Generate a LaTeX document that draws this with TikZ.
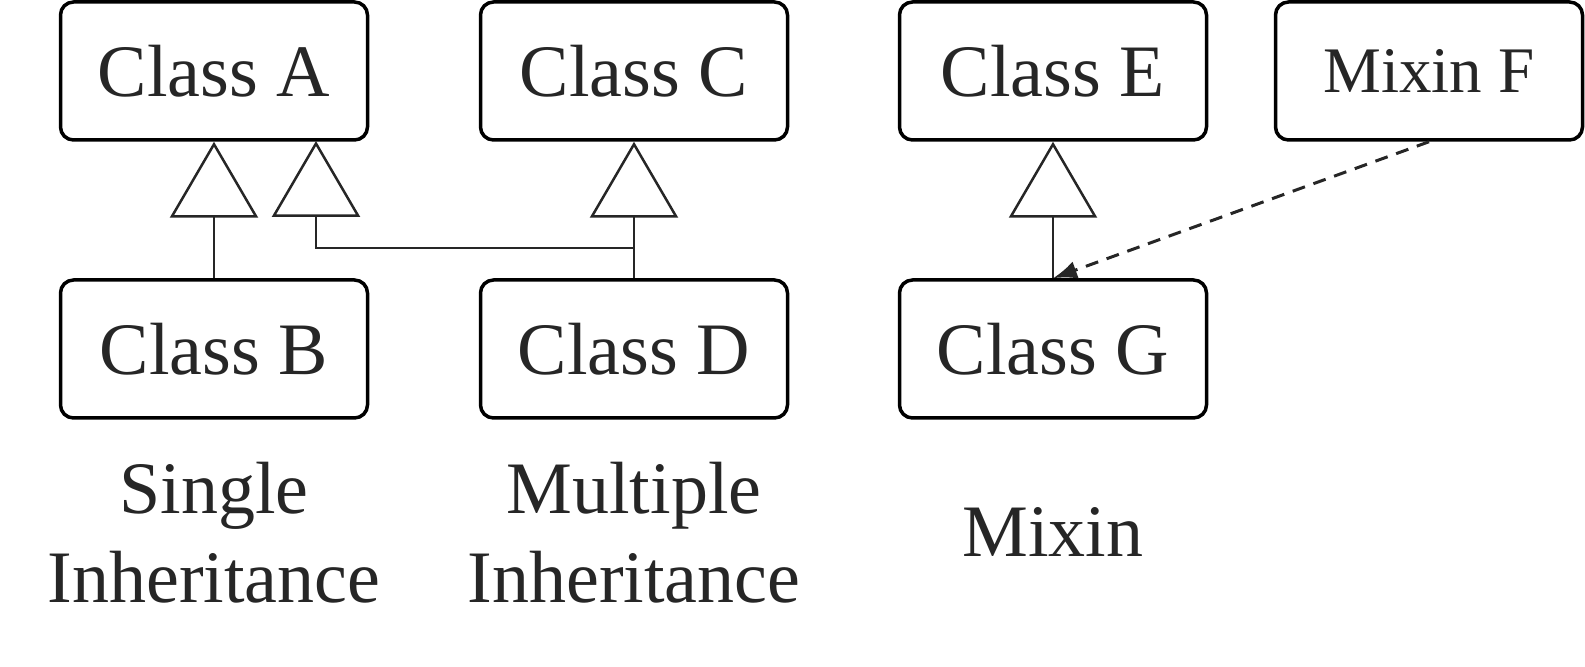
\documentclass[tikz,border=0pt]{standalone}
\usepackage{fontspec}
\setmainfont{Liberation Serif}
\usetikzlibrary{arrows.meta}
\definecolor{ink}{HTML}{262626}
\tikzset{
  classbox/.style={draw=black, line width=1.75pt, rounded corners=6.5pt,
    minimum width=153.5pt, minimum height=69pt, inner sep=0pt,
    text=ink, font=\fontsize{37}{44.5}\selectfont},
  inh/.style={draw=ink, line width=1.25pt,
    -{Triangle[open, length=38pt, width=44pt, line width=1.25pt]}},
  dep/.style={draw=ink, line width=1.5pt, dash pattern=on 6.5pt off 4.5pt,
    -{Latex[length=12pt, width=9pt]}},
  caption/.style={text=ink, align=center, inner sep=0pt,
    font=\fontsize{37}{44.5}\selectfont}
}
\begin{document}
\begin{tikzpicture}[x=0.5pt, y=-0.5pt]
\useasboundingbox (0,0) rectangle (1585,667);
% boxes
\node[classbox] (A) at (214,71) {Class A};
\node[classbox] (C) at (634,71) {Class C};
\node[classbox] (E) at (1053,71) {Class E};
\node[classbox, font=\fontsize{32.5}{39}\selectfont] (F) at (1429,71) {Mixin F};
\node[classbox] (B) at (214,349) {Class B};
\node[classbox] (D) at (634,349) {Class D};
\node[classbox] (G) at (1053,349) {Class G};
% helper coordinates
\coordinate (j) at (634,248);
\coordinate (a2) at (316,141);
% connectors
\draw[inh] (B.north) -- (A.south);
\draw[inh] (D.north) -- (C.south);
\draw[inh] (j) -| (a2);
\draw[inh] (G.north) -- (E.south);
\draw[dep] (F.south) -- (G.north);
% captions
\node[caption] (l1) at (214,532.5) {Single\\Inheritance};
\node[caption] (l2) at (634,532.5) {Multiple\\Inheritance};
\node[caption] (l3) at (1053,532.5) {Mixin};
\end{tikzpicture}
\end{document}
